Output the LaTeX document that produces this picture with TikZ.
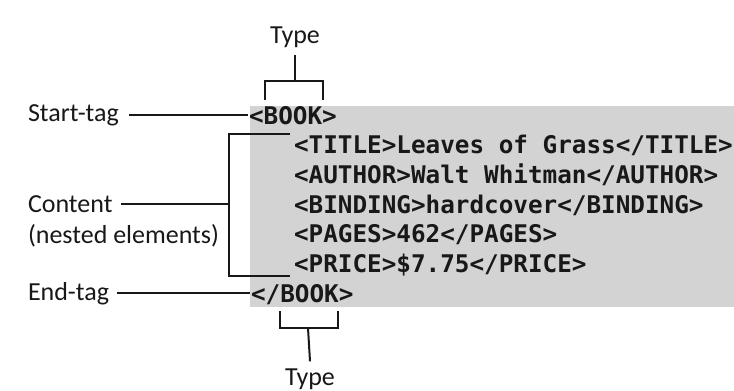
\documentclass[tikz,border=0pt]{standalone}
\usepackage{fontspec}
\setmainfont{Carlito}
\setmonofont{DejaVu Sans Mono}
\usepackage{xcolor}
\definecolor{boxgray}{HTML}{D3D3D3}
\definecolor{inkgray}{HTML}{181818}
\usetikzlibrary{calc}

\begin{document}
\begin{tikzpicture}[x=1pt,y=-1pt,line width=2pt,color=inkgray,
  font=\fontsize{26}{30}\selectfont,
  lbl/.style={anchor=base west,inner sep=0pt},
  code/.style={anchor=base west,inner sep=0pt,
    font=\ttfamily\bfseries\fontsize{24.3}{28}\selectfont}]
  \useasboundingbox (0,0) rectangle (734,391);
  % shaded listing
  \fill[boxgray] (250,106) rectangle (734,307);
  % the listing, one line per node
  \node[code] (stag)  at (248,124) {<BOOK>};
  \node[code] (title) at (293,153.7) {<TITLE>Leaves of Grass</TITLE>};
  \node[code] (auth)  at (293,183.3) {<AUTHOR>Walt Whitman</AUTHOR>};
  \node[code] (bind)  at (293,213) {<BINDING>hardcover</BINDING>};
  \node[code] (pages) at (293,242.7) {<PAGES>462</PAGES>};
  \node[code] (price) at (293,272.3) {<PRICE>\$7.75</PRICE>};
  \node[code] (etag)  at (250,302) {</BOOK>};
  % labels on the left
  \node[lbl] (lstart) at (27,121) {Start-tag};
  \node[lbl] (lcont)  at (27,212) {Content};
  \node[lbl] (lnest)  at (27,243) {(nested elements)};
  \node[lbl] (lend)   at (27,300) {End-tag};
  \node[lbl,anchor=base] (ttop) at (295,43) {Type};
  \node[lbl,anchor=base] (tbot) at (310,385) {Type};
  % leaders
  \draw (lstart.east) ++(9,0) coordinate (a) -- (a -| stag.west);
  \draw (lend.east) ++(7,0) coordinate (b) -- (b -| etag.west);
  \coordinate (ctop) at (229,134);
  \coordinate (cbot) at (229,276);
  \draw ($(ctop)+(61,0)$) -- (ctop) -- (cbot) -- ++(61,0);
  \draw (lcont.east) ++(8,0) coordinate (c) -- (c -| ctop);
  % type brackets
  \draw (ttop.south) ++(0,7) coordinate (t1) -- ++(0,26) coordinate (t2);
  \draw (265,100) -- (t2 -| 265,0) -- (t2 -| 323,0) -- (323,100);
  \draw (280,311) -- (280,328) -- (338,328) -- (338,311);
  \draw (308,328) -- ($(tbot.north)+(0,-6)$);
\end{tikzpicture}
\end{document}
